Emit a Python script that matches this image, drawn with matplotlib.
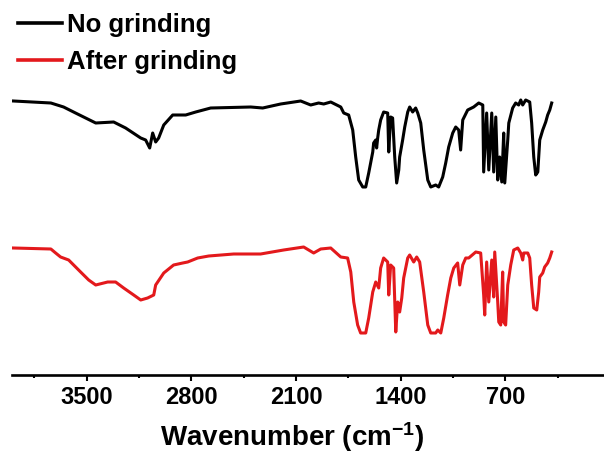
import matplotlib
matplotlib.use("Agg")
import matplotlib.pyplot as plt
from matplotlib.ticker import MultipleLocator

# FTIR spectra (wavenumber in cm-1, transmittance in a.u., curves offset)
wn_no_grind = [3990, 3740, 3655, 3575, 3440, 3320, 3240, 3139, 3106, 3079, 3059, 3039, 3019,
               2985, 2925, 2838, 2771, 2671, 2403, 2323, 2203, 2069, 2002, 1949, 1915, 1868,
               1801, 1781, 1748, 1721, 1701, 1681, 1654, 1634, 1614, 1587, 1581, 1567, 1561,
               1554, 1547, 1534, 1514, 1487, 1480, 1467, 1454, 1440, 1427, 1413, 1407, 1387,
               1373, 1353, 1340, 1320, 1300, 1286, 1266, 1246, 1219, 1199, 1166, 1146, 1119,
               1099, 1079, 1052, 1032, 1012, 999, 985, 952, 912, 878, 851, 845, 825, 811, 791,
               778, 764, 751, 738, 724, 711, 704, 684, 677, 651, 631, 611, 597, 584, 564, 537,
               524, 510, 497, 483, 470, 450, 430, 417, 403, 390]
t_no_grind = [299, 297, 293, 287, 277, 278, 272, 262, 260, 252, 267, 258, 262,
              275, 285, 285, 288, 292, 293, 292, 296, 299, 295, 297, 296, 298,
              293, 287, 285, 270, 243, 220, 213, 213, 227, 248, 257, 260, 252,
              262, 270, 280, 288, 287, 248, 283, 282, 243, 217, 230, 243, 260,
              273, 288, 293, 288, 292, 287, 277, 250, 220, 213, 215, 213, 223,
              237, 253, 267, 273, 270, 250, 280, 290, 293, 297, 295, 228, 287, 230, 287,
              228, 283, 220, 243, 218, 267, 217, 260, 277, 292, 297, 295, 300, 295, 300, 298,
              277, 243, 225, 228, 260, 270, 278, 285, 290, 297]

wn_after_grind = [3990, 3740, 3708, 3675, 3621, 3541, 3487, 3440, 3360, 3307, 3253, 3186, 3139,
                  3093, 3052, 3039, 2985, 2919, 2858, 2825, 2758, 2684, 2517, 2337, 2183, 2049,
                  1982, 1935, 1868, 1801, 1755, 1734, 1714, 1688, 1668, 1634, 1614, 1587, 1567,
                  1547, 1534, 1514, 1487, 1480, 1467, 1447, 1433, 1420, 1407, 1393, 1380, 1353,
                  1340, 1313, 1293, 1273, 1246, 1219, 1199, 1166, 1152, 1132, 1112, 1086, 1065,
                  1045, 1019, 1005, 985, 965, 945, 898, 865, 845, 838, 825, 811, 791, 778, 771,
                  751, 744, 731, 718, 711, 698, 684, 664, 644, 617, 597, 584, 577, 550, 537, 524,
                  510, 490, 477, 470, 450, 437, 417, 403, 390]
t_after_grind = [152, 151, 147, 143, 140, 128, 120, 115, 118, 118, 112, 105, 100,
                 102, 105, 115, 127, 135, 137, 138, 142, 144, 146, 146, 150, 153,
                 147, 151, 152, 143, 142, 128, 98, 75, 67, 67, 82, 108, 118,
                 112, 132, 142, 138, 105, 135, 132, 68, 98, 88, 102, 122, 142,
                 145, 138, 143, 138, 108, 75, 67, 67, 70, 67, 82, 105, 122,
                 132, 137, 115, 135, 142, 142, 148, 147, 105, 85, 138, 98, 140, 103, 148,
                 98, 78, 75, 128, 78, 75, 115, 135, 150, 152, 147, 140, 147, 147, 142, 115,
                 92, 90, 108, 123, 127, 133, 137, 142, 148]

labels = ["No grinding", "After grinding"]
colors = ["black", "#e3191c"]
major_ticks = [3500, 2800, 2100, 1400, 700]

plt.rcParams["font.family"] = "Liberation Sans"
plt.rcParams["font.weight"] = "bold"
plt.rcParams["mathtext.fontset"] = "custom"
plt.rcParams["mathtext.rm"] = "Liberation Sans:bold"
plt.rcParams["mathtext.bf"] = "Liberation Sans:bold"
plt.rcParams["mathtext.default"] = "bf"

W, H = 604, 461
fig = plt.figure(figsize=(W / 100, H / 100), dpi=100)
ax = fig.add_axes([12 / W, 86 / H, 598 / W, 375 / H])

ax.plot(wn_no_grind, t_no_grind, color=colors[0], lw=2.2, label=labels[0])
ax.plot(wn_after_grind, t_after_grind, color=colors[1], lw=2.2, label=labels[1])

ax.set_xlim(4000, 0)
ax.set_ylim(25, 400)

for side in ["top", "right", "left"]:
    ax.spines[side].set_visible(False)
ax.spines["bottom"].set_linewidth(1.9)
ax.set_yticks([])

# the axis runs on to 0 past the right edge, so only label the visible majors
ax.set_xticks(major_ticks)
ax.xaxis.set_minor_locator(MultipleLocator(350))
ax.tick_params(axis="x", which="major", direction="out", length=4, width=1.5,
               labelsize=17, pad=4)
ax.tick_params(axis="x", which="minor", direction="out", length=2.5, width=1.5)

ax.set_xlabel("Wavenumber (cm$^{-1}$)", fontsize=20, fontweight="bold")
ax.xaxis.set_label_coords(0.468, -0.12)

leg = ax.legend(loc="upper left", bbox_to_anchor=(18 / W, 1 - 13 / H),
                bbox_transform=fig.transFigure, frameon=False,
                handlelength=1.7, handletextpad=0.2, labelspacing=0.5,
                borderpad=0, borderaxespad=0, prop={"weight": "bold", "size": 18.5})
for line in leg.get_lines():
    line.set_linewidth(2.6)

fig.savefig("out.png", dpi=100)
